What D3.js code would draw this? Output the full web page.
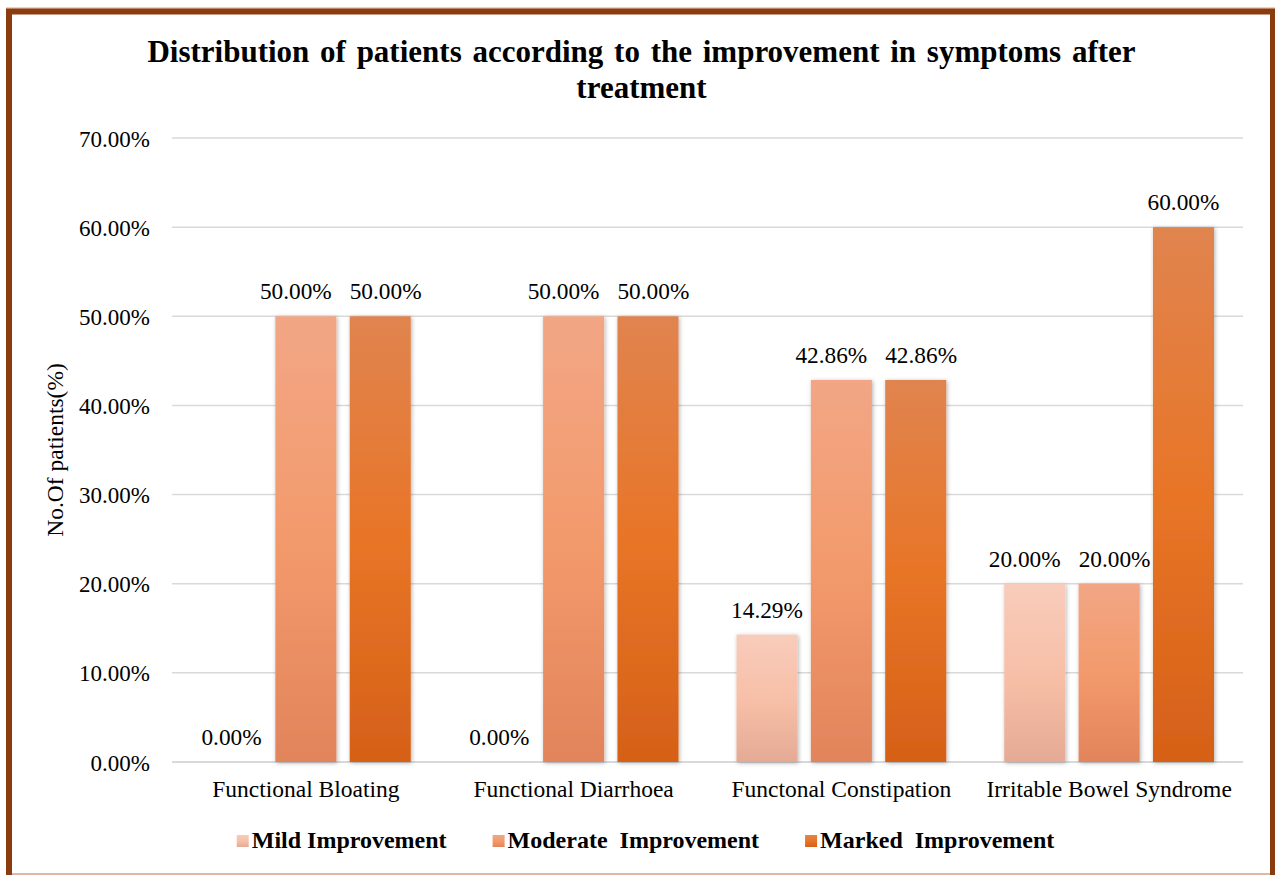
<!DOCTYPE html>
<html>
<head>
<meta charset="utf-8">
<script src="https://cdn.jsdelivr.net/npm/d3@7/dist/d3.min.js"></script>
<style>
  html, body { margin: 0; padding: 0; background: #ffffff; }
  svg { display: block; }
</style>
</head>
<body>
<script>
// ---- Data ----
const categories = ["Functional Bloating", "Functional Diarrhoea", "Functonal Constipation", "Irritable Bowel Syndrome"];
const seriesNames = ["Mild Improvement", "Moderate  Improvement", "Marked  Improvement"];
const mildValues = [0, 0, 14.29, 20];
const moderateValues = [50, 50, 42.86, 20];
const markedValues = [50, 50, 42.86, 60];
const yTickValues = [0, 10, 20, 30, 40, 50, 60, 70];
const titleLines = ["Distribution of patients according to the improvement in symptoms after", "treatment"];
const yAxisTitle = "No.Of patients(%)";

const seriesValues = [mildValues, moderateValues, markedValues];
const FONT = '"Liberation Serif", "Times New Roman", serif';

// ---- Layout ----
const W = 1275, H = 875;
const plot = { left: 172, right: 1243, top: 138, bottom: 762 };

const svg = d3.select("body").append("svg")
  .attr("width", W).attr("height", H);

const defs = svg.append("defs");
const gradStops = [
  [["0%", "#F8CCBB"], ["55%", "#F7BEA6"], ["100%", "#E4AA95"]],
  [["0%", "#F2A685"], ["50%", "#F39A6C"], ["100%", "#E2845B"]],
  [["0%", "#E0844F"], ["50%", "#E87527"], ["100%", "#D56018"]]
];
gradStops.forEach((stops, i) => {
  const g = defs.append("linearGradient")
    .attr("id", "grad" + i).attr("x1", 0).attr("y1", 0).attr("x2", 0).attr("y2", 1);
  stops.forEach(s => g.append("stop").attr("offset", s[0]).attr("stop-color", s[1]));
});
const shadow = defs.append("filter").attr("id", "shadow")
  .attr("x", "-20%").attr("y", "-10%").attr("width", "140%").attr("height", "120%");
shadow.append("feDropShadow").attr("dx", 1).attr("dy", 1)
  .attr("stdDeviation", 2).attr("flood-color", "#000").attr("flood-opacity", 0.3);

// Background
svg.append("rect").attr("width", W).attr("height", H).attr("fill", "#fff");

// Frame
svg.append("line").attr("x1", 6).attr("x2", W).attr("y1", 8).attr("y2", 8)
  .attr("stroke", "#E6C2AC").attr("stroke-width", 1.5);
svg.append("rect").attr("x", 9).attr("y", 11.5).attr("width", 1264).attr("height", 900)
  .attr("fill", "none").attr("stroke", "#8B3C0F").attr("stroke-width", 6);
svg.append("line").attr("x1", 12).attr("x2", 1270).attr("y1", 874).attr("y2", 874)
  .attr("stroke", "#DDB8A2").attr("stroke-width", 2);

// Scales
const y = d3.scaleLinear().domain([0, 70]).range([plot.bottom, plot.top]);
const x0 = d3.scaleBand().domain(categories).range([plot.left, plot.right]).padding(0);
const x1 = d3.scaleBand().domain(d3.range(seriesNames.length))
  .range([0, x0.bandwidth()]).paddingInner(0.179).paddingOuter(0.39);

// Gridlines
svg.append("g").selectAll("line").data(yTickValues).join("line")
  .attr("x1", plot.left).attr("x2", plot.right)
  .attr("y1", d => y(d)).attr("y2", d => y(d))
  .attr("stroke", "#D9D9D9").attr("stroke-width", d => d === 0 ? 2 : 1.5);

// Y axis tick labels
const yAxis = d3.axisLeft(y).tickValues(yTickValues)
  .tickFormat(d => d3.format(".2f")(d) + "%").tickSize(0).tickPadding(0);
const yAxisG = svg.append("g").attr("transform", `translate(150,0)`).call(yAxis)
  .attr("font-family", FONT).attr("font-size", 23);
yAxisG.select(".domain").remove();
yAxisG.selectAll("text")
  .style("font-family", FONT)
  .style("font-size", "23px").attr("fill", "#000").attr("dy", "0.35em");

// X axis category labels
const xAxis = d3.axisBottom(x0).tickSize(0).tickPadding(0);
const xAxisG = svg.append("g").attr("transform", `translate(0,${plot.bottom})`).call(xAxis)
  .attr("font-family", FONT).attr("font-size", 23.5);
xAxisG.select(".domain").remove();
xAxisG.selectAll("text")
  .style("font-family", FONT)
  .style("font-size", "23.5px").attr("fill", "#000").attr("y", 35).attr("dy", 0);

// Bars
const barData = [];
categories.forEach((c, ci) => {
  seriesValues.forEach((vals, si) => barData.push({ c, ci, si, v: vals[ci] }));
});

svg.append("g").selectAll("rect").data(barData.filter(d => d.v > 0)).join("rect")
  .attr("x", d => x0(d.c) + x1(d.si))
  .attr("y", d => y(d.v))
  .attr("width", x1.bandwidth())
  .attr("height", d => y(0) - y(d.v))
  .attr("fill", d => `url(#grad${d.si})`)
  .attr("filter", "url(#shadow)");

// Data labels (with simple collision spreading for equal-height neighbours)
const labelG = svg.append("g");
const labels = labelG.selectAll("text").data(barData).join("text")
  .attr("x", d => x0(d.c) + x1(d.si) + x1.bandwidth() / 2)
  .attr("y", d => y(d.v) - 17)
  .attr("text-anchor", "middle")
  .style("font-family", FONT)
  .style("font-size", "23.3px")
  .attr("fill", "#000")
  .text(d => d3.format(".2f")(d.v) + "%");

const minGap = 18;
barData.forEach(d => { d.shift = 0; });
labels.each(function (d) { d.w = this.getComputedTextLength(); });
barData.forEach((d, i) => {
  const n = barData[i + 1];
  if (n && n.ci === d.ci && n.v === d.v) {
    const cx1 = x0(d.c) + x1(d.si) + x1.bandwidth() / 2;
    const cx2 = x0(n.c) + x1(n.si) + x1.bandwidth() / 2;
    const gap = (cx2 - n.w / 2) - (cx1 + d.w / 2);
    if (gap < minGap) {
      const need = minGap - gap;
      d.shift -= need * 0.65;
      n.shift += need * 0.35;
    }
  }
});
labels.attr("x", d => x0(d.c) + x1(d.si) + x1.bandwidth() / 2 + d.shift);

// Title
svg.append("g").selectAll("text").data(titleLines).join("text")
  .attr("x", 641.5).attr("y", (d, i) => 62 + i * 35.5)
  .attr("text-anchor", "middle")
  .style("font-family", FONT)
  .style("font-size", "31px").style("font-weight", "bold")
  .style("word-spacing", "3px")
  .attr("fill", "#000")
  .text(d => d);

// Y axis title
svg.append("text")
  .attr("transform", `translate(63,${(plot.top + plot.bottom) / 2}) rotate(-90)`)
  .attr("text-anchor", "middle")
  .style("font-family", FONT)
  .style("font-size", "23.5px")
  .attr("fill", "#000")
  .text(yAxisTitle);

// Legend
const legend = svg.append("g");
let lx = 0;
seriesNames.forEach((name, i) => {
  const g = legend.append("g");
  g.append("rect").attr("x", lx).attr("y", -13).attr("width", 12).attr("height", 12)
    .attr("fill", `url(#grad${i})`);
  const t = g.append("text").attr("x", lx + 15).attr("y", 0)
    .style("font-family", FONT)
    .style("font-size", "24px").style("font-weight", "bold")
    .style("white-space", "pre").attr("xml:space", "preserve")
    .attr("fill", "#000")
    .text(name);
  const w = t.node().getComputedTextLength();
  lx += 15 + w + 46;
});
const legendWidth = lx - 46;
legend.attr("transform", `translate(${645.5 - legendWidth / 2},848)`);
</script>
</body>
</html>
